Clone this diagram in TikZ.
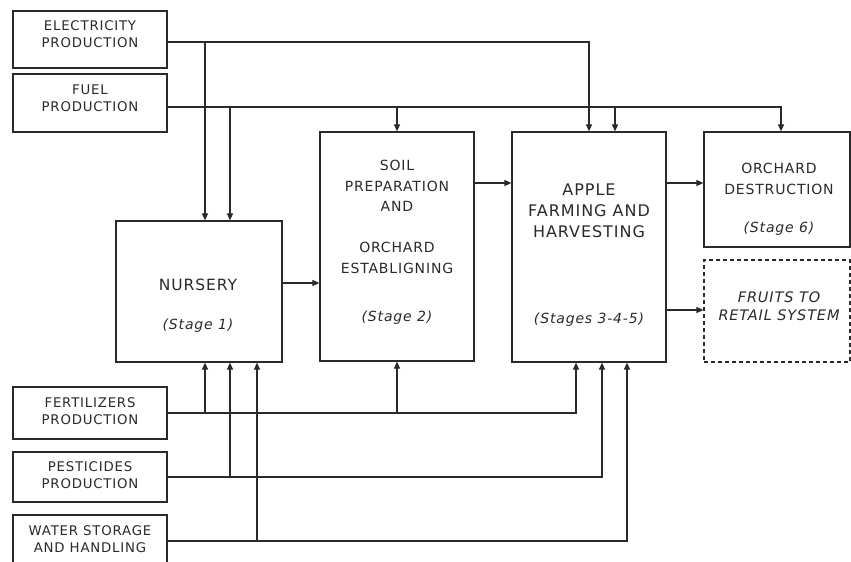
\documentclass[tikz,border=0pt]{standalone}
\usepackage{fontspec}
\setmainfont{DejaVu Sans}[ItalicFont={DejaVu Sans Oblique}, LetterSpace=6]
\usetikzlibrary{arrows.meta}
\definecolor{ln}{HTML}{2A2A2A}
\begin{document}
\begin{tikzpicture}[x=1bp,y=-1bp,
  box/.style={draw=ln, line width=1.2bp, inner sep=0pt},
  arr/.style={draw=ln, line width=1.2bp, -{Triangle[length=7bp,width=6bp]}},
  ln/.style={draw=ln, line width=1.2bp},
  txt/.style={align=center, inner sep=0pt, text=ln, font=\fontsize{13.3bp}{17bp}\selectfont},
  stxt/.style={align=center, inner sep=0pt, text=ln, font=\fontsize{14bp}{20.5bp}\selectfont},
  btxt/.style={align=center, inner sep=0pt, text=ln, font=\fontsize{16bp}{21bp}\selectfont},
  itxt/.style={align=center, inner sep=0pt, text=ln, font=\fontsize{14bp}{18bp}\selectfont\itshape},
  ftxt/.style={align=center, inner sep=0pt, text=ln, font=\fontsize{14.5bp}{18bp}\selectfont\itshape}]
\clip (0,0) rectangle (851,562);
\fill[white] (0,0) rectangle (851,562);

% boxes
\node[box, minimum width=154bp, minimum height=57bp] (elec) at (90,39.5) {};
\node[box, minimum width=154bp, minimum height=58bp] (fuel) at (90,103) {};
\node[box, minimum width=154bp, minimum height=52bp] (fert) at (90,413) {};
\node[box, minimum width=154bp, minimum height=50bp] (pest) at (90,477) {};
\node[box, minimum width=154bp, minimum height=52bp] (water) at (90,541) {};
\node[box, minimum width=166bp, minimum height=141bp] (nursery) at (199,291.5) {};
\node[box, minimum width=154bp, minimum height=229bp] (soil) at (397,246.5) {};
\node[box, minimum width=154bp, minimum height=230bp] (apple) at (589,247) {};
\node[box, minimum width=146bp, minimum height=115bp] (destr) at (777,189.5) {};
\node[box, dash pattern=on 4bp off 3bp, minimum width=146bp, minimum height=102bp] (fruits) at (777,311) {};

% texts
\node[txt] (elect) at (90,34) {ELECTRICITY\\PRODUCTION};
\node[txt] (fuelt) at (90,98.5) {FUEL\\PRODUCTION};
\node[txt] (fertt) at (90,411.5) {FERTILIZERS\\PRODUCTION};
\node[txt] (pestt) at (90,475) {PESTICIDES\\PRODUCTION};
\node[txt] (watert) at (90,539) {WATER STORAGE\\AND HANDLING};
\node[btxt, font=\fontsize{15.5bp}{21bp}\selectfont] (nurst) at (198,285) {NURSERY};
\node[itxt] (nurss) at (198,326) {(Stage 1)};
\node[stxt] (soilt) at (397,217) {SOIL\\PREPARATION\\AND\\[20.5bp]ORCHARD\\ESTABLIGNING};
\node[itxt] (soils) at (397,318) {(Stage 2)};
\node[btxt] (applet) at (589,211) {APPLE\\FARMING AND\\HARVESTING};
\node[itxt] (apples) at (589,320) {(Stages 3-4-5)};
\node[stxt] (destrt) at (779,179) {ORCHARD\\DESTRUCTION};
\node[itxt] (destrs) at (779,229) {(Stage 6)};
\node[ftxt] (fruitt) at (779,306) {FRUITS TO\\RETAIL SYSTEM};

% junctions
\coordinate (e1) at (205,42);
\coordinate (f1) at (230,107);
\coordinate (f2) at (397,107);
\coordinate (f3) at (615,107);
\coordinate (r1) at (205,413);
\coordinate (r2) at (397,413);
\coordinate (p1) at (230,477);
\coordinate (w1) at (257,541);

% top feeds
\draw[arr] ([yshift=-2.5bp]elec.east) -| (apple.north);
\draw[arr] (e1) -- (e1 |- nursery.north);
\draw[arr] ([yshift=-4bp]fuel.east) -| ([xshift=4bp]destr.north);
\draw[arr] (f1) -- (f1 |- nursery.north);
\draw[arr] (f2) -- (soil.north);
\draw[arr] (f3) -- (f3 |- apple.north);

% flow
\draw[arr] ([yshift=8.5bp]nursery.east) -- ([yshift=8.5bp]nursery.east -| soil.west);
\draw[arr] ([yshift=63.5bp]soil.east) -- ([yshift=63.5bp]soil.east -| apple.west);
\draw[arr] ([yshift=64bp]apple.east) -- ([yshift=64bp]apple.east -| destr.west);
\draw[arr] ([yshift=-63bp]apple.east) -- ([yshift=-63bp]apple.east -| fruits.west);

% bottom feeds
\draw[arr] (fert.east) -| ([xshift=-13bp]apple.south);
\draw[arr] (r1) -- (r1 |- nursery.south);
\draw[arr] (r2) -- (soil.south);
\draw[arr] (pest.east) -| ([xshift=13bp]apple.south);
\draw[arr] (p1) -- (p1 |- nursery.south);
\draw[arr] (water.east) -| ([xshift=38bp]apple.south);
\draw[arr] (w1) -- (w1 |- nursery.south);
\end{tikzpicture}
\end{document}
